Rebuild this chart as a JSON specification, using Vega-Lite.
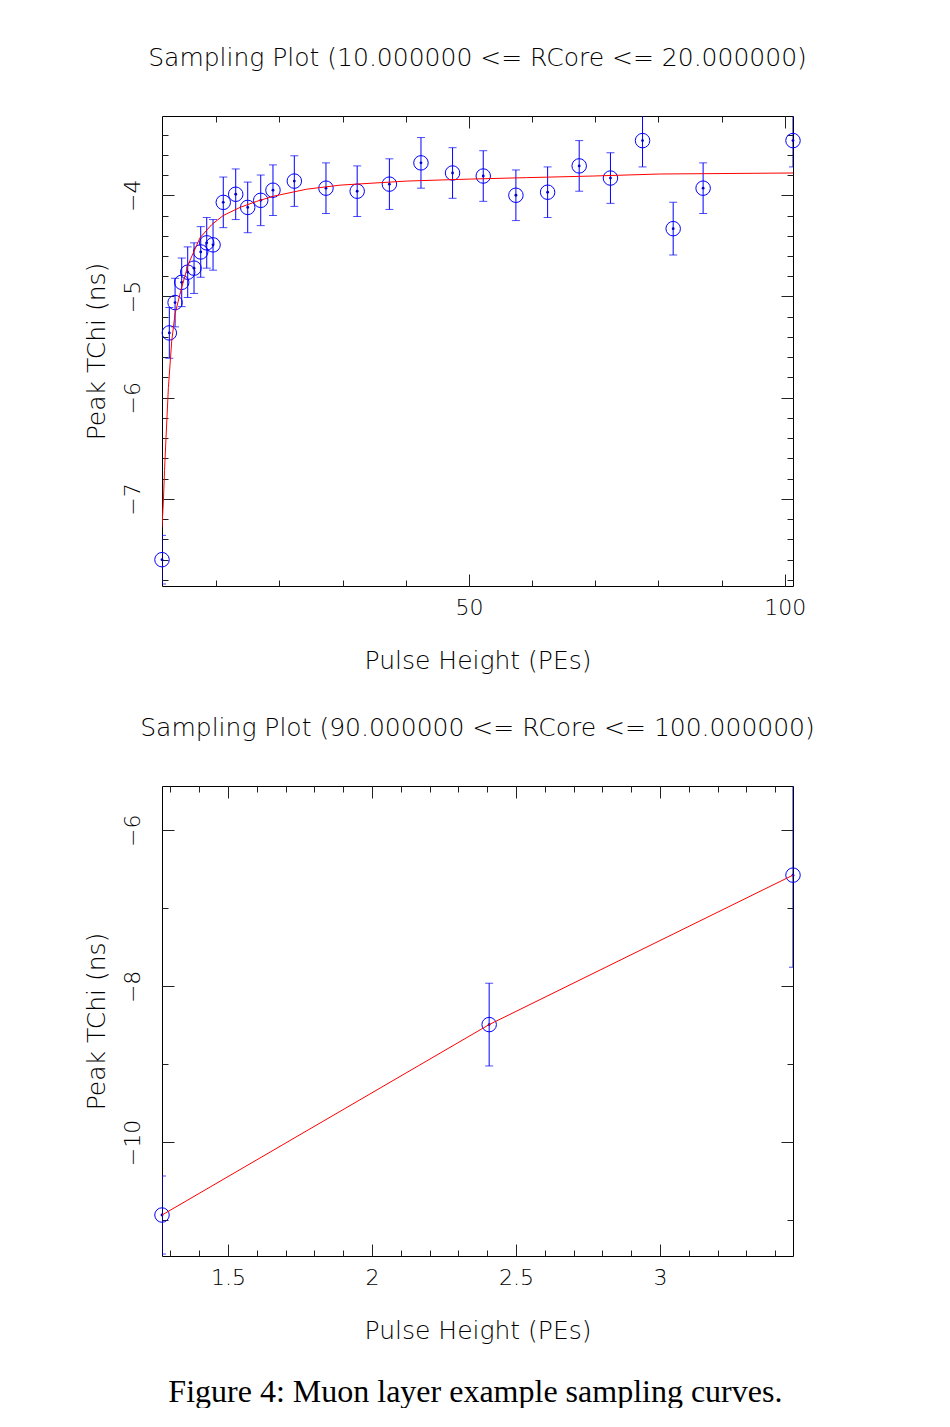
{
  "$schema": "https://vega.github.io/schema/vega-lite/v6.json",
  "background": "white",
  "padding": {"left": 83, "top": 45, "right": 0, "bottom": 0},
  "spacing": 41,
  "config": {
    "view": {"stroke": "black", "strokeWidth": 1},
    "font": "DejaVu Sans",
    "axis": {"grid": false, "domain": false, "tickColor": "#222", "tickWidth": 1, "labelColor": "#000", "titleColor": "#000", "labelFont": "DejaVu Sans", "titleFont": "DejaVu Sans", "labelFontSize": 22, "titleFontSize": 25, "labelFontWeight": 200, "titleFontWeight": 200, "labelFlush": false, "labelOverlap": false},
    "title": {"font": "DejaVu Sans", "fontSize": 25, "fontWeight": 200, "color": "#000"}
  },
  "title": {"text": "Figure 4: Muon layer example sampling curves.", "orient": "bottom", "anchor": "middle", "font": "Liberation Serif", "fontSize": 32, "fontWeight": "normal", "color": "black", "offset": 33, "dx": 26},
  "datasets": {
    "top": [
      {"x": 1.4, "y": -7.60, "lo": -7.84, "hi": -7.36},
      {"x": 2.56, "y": -5.36, "lo": -5.61, "hi": -5.11},
      {"x": 3.47, "y": -5.06, "lo": -5.30, "hi": -4.82},
      {"x": 4.52, "y": -4.86, "lo": -5.10, "hi": -4.62},
      {"x": 5.47, "y": -4.76, "lo": -5.01, "hi": -4.51},
      {"x": 6.47, "y": -4.72, "lo": -4.97, "hi": -4.47},
      {"x": 7.53, "y": -4.56, "lo": -4.81, "hi": -4.31},
      {"x": 8.48, "y": -4.47, "lo": -4.72, "hi": -4.22},
      {"x": 9.48, "y": -4.49, "lo": -4.74, "hi": -4.24},
      {"x": 11.1, "y": -4.07, "lo": -4.32, "hi": -3.82},
      {"x": 13.07, "y": -3.99, "lo": -4.24, "hi": -3.74},
      {"x": 14.97, "y": -4.12, "lo": -4.37, "hi": -3.87},
      {"x": 17.03, "y": -4.05, "lo": -4.30, "hi": -3.80},
      {"x": 18.97, "y": -3.95, "lo": -4.20, "hi": -3.70},
      {"x": 22.35, "y": -3.86, "lo": -4.11, "hi": -3.61},
      {"x": 27.36, "y": -3.93, "lo": -4.18, "hi": -3.68},
      {"x": 32.3, "y": -3.96, "lo": -4.21, "hi": -3.71},
      {"x": 37.4, "y": -3.89, "lo": -4.14, "hi": -3.64},
      {"x": 42.4, "y": -3.68, "lo": -3.93, "hi": -3.43},
      {"x": 47.4, "y": -3.78, "lo": -4.03, "hi": -3.53},
      {"x": 52.26, "y": -3.81, "lo": -4.06, "hi": -3.56},
      {"x": 57.43, "y": -4.00, "lo": -4.25, "hi": -3.75},
      {"x": 62.45, "y": -3.97, "lo": -4.22, "hi": -3.72},
      {"x": 67.45, "y": -3.71, "lo": -3.96, "hi": -3.46},
      {"x": 72.4, "y": -3.83, "lo": -4.08, "hi": -3.58},
      {"x": 77.48, "y": -3.46, "lo": -3.72, "hi": -3.20},
      {"x": 82.33, "y": -4.33, "lo": -4.59, "hi": -4.07},
      {"x": 87.07, "y": -3.93, "lo": -4.18, "hi": -3.68},
      {"x": 101.3, "y": -3.46, "lo": -3.72, "hi": -3.20}
    ],
    "topfit": [
      {"x": 1.4, "y": -7.28},
      {"x": 1.62, "y": -7.02},
      {"x": 1.8, "y": -6.72},
      {"x": 2.04, "y": -6.39},
      {"x": 2.41, "y": -5.9},
      {"x": 2.94, "y": -5.44},
      {"x": 3.47, "y": -5.17},
      {"x": 4.52, "y": -4.91},
      {"x": 5.57, "y": -4.68},
      {"x": 7.42, "y": -4.42},
      {"x": 9.27, "y": -4.29},
      {"x": 11.1, "y": -4.2},
      {"x": 13.75, "y": -4.12},
      {"x": 16.4, "y": -4.06},
      {"x": 19.0, "y": -4.01},
      {"x": 24.3, "y": -3.94},
      {"x": 29.6, "y": -3.9},
      {"x": 34.8, "y": -3.88},
      {"x": 40.1, "y": -3.86},
      {"x": 50.2, "y": -3.84},
      {"x": 59.1, "y": -3.826},
      {"x": 69.7, "y": -3.81},
      {"x": 80.2, "y": -3.79},
      {"x": 101.3, "y": -3.78}
    ],
    "bot": [
      {"x": 1.271, "y": -10.93, "lo": -11.43, "hi": -10.43},
      {"x": 2.407, "y": -8.49, "lo": -9.02, "hi": -7.96},
      {"x": 3.462, "y": -6.575, "lo": -7.755, "hi": -5.395}
    ]
  },
  "vconcat": [
    {
      "title": {"text": "Sampling Plot (10.000000 <= RCore <= 20.000000)", "anchor": "middle", "frame": "group", "baseline": "bottom", "offset": 20},
      "width": 631,
      "height": 470,
      "resolve": {"axis": {"x": "independent", "y": "independent"}},
      "layer": [
        {
          "data": {"name": "top"},
          "mark": {"type": "rule", "color": "#0000ff", "strokeWidth": 1, "clip": true},
          "encoding": {
            "x": {"field": "x", "type": "quantitative", "scale": {"domain": [1.4, 101.3], "nice": false, "zero": false},
              "axis": {"orient": "bottom", "values": [50, 100], "tickSize": -12, "labelPadding": 23, "title": "Pulse Height (PEs)", "titlePadding": 30}},
            "y": {"field": "lo", "type": "quantitative", "scale": {"domain": [-7.86, -3.217], "nice": false, "zero": false},
              "axis": {"orient": "left", "values": [-7, -6, -5, -4], "format": "d", "tickSize": -12, "labelAngle": -90, "labelAlign": "center", "labelBaseline": "middle", "labelPadding": 42, "title": "Peak TChi (ns)", "titlePadding": 12}},
            "y2": {"field": "hi"}
          }
        },
        {
          "data": {"name": "top"},
          "mark": {"type": "tick", "orient": "horizontal", "color": "#0000ff", "size": 8, "thickness": 1, "clip": true},
          "encoding": {
            "x": {"field": "x", "type": "quantitative",
              "axis": {"orient": "bottom", "values": [10, 20, 30, 40, 50, 60, 70, 80, 90, 100], "tickSize": -6, "labels": false, "title": null}},
            "y": {"field": "lo", "type": "quantitative",
              "axis": {"orient": "left", "values": [-7.8, -7.6, -7.4, -7.2, -7, -6.8, -6.6, -6.4, -6.2, -6, -5.8, -5.6, -5.4, -5.2, -5, -4.8, -4.6, -4.4, -4.2, -4, -3.8, -3.6, -3.4], "tickSize": -6, "labels": false, "title": null}}
          }
        },
        {
          "data": {"name": "top"},
          "mark": {"type": "tick", "orient": "horizontal", "color": "#0000ff", "size": 8, "thickness": 1, "clip": true},
          "encoding": {
            "x": {"field": "x", "type": "quantitative",
              "axis": {"orient": "top", "values": [50, 100], "tickSize": -12, "labels": false, "title": null}},
            "y": {"field": "hi", "type": "quantitative",
              "axis": {"orient": "right", "values": [-7, -6, -5, -4], "tickSize": -12, "labels": false, "title": null}}
          }
        },
        {
          "data": {"name": "top"},
          "mark": {"type": "point", "shape": "circle", "filled": false, "color": "#0000ff", "size": 210, "strokeWidth": 1, "opacity": 1},
          "encoding": {
            "x": {"field": "x", "type": "quantitative",
              "axis": {"orient": "top", "values": [10, 20, 30, 40, 50, 60, 70, 80, 90, 100], "tickSize": -6, "labels": false, "title": null}},
            "y": {"field": "y", "type": "quantitative",
              "axis": {"orient": "right", "values": [-7.8, -7.6, -7.4, -7.2, -7, -6.8, -6.6, -6.4, -6.2, -6, -5.8, -5.6, -5.4, -5.2, -5, -4.8, -4.6, -4.4, -4.2, -4, -3.8, -3.6, -3.4], "tickSize": -6, "labels": false, "title": null}}
          }
        },
        {
          "data": {"name": "top"},
          "mark": {"type": "point", "shape": "circle", "filled": true, "color": "#0000cc", "size": 8, "opacity": 1},
          "encoding": {
            "x": {"field": "x", "type": "quantitative", "axis": null},
            "y": {"field": "y", "type": "quantitative", "axis": null}
          }
        },
        {
          "data": {"name": "topfit"},
          "mark": {"type": "line", "color": "#ff0000", "strokeWidth": 1, "clip": true},
          "encoding": {
            "x": {"field": "x", "type": "quantitative", "axis": null},
            "y": {"field": "y", "type": "quantitative", "axis": null}
          }
        }
      ]
    },
    {
      "title": {"text": "Sampling Plot (90.000000 <= RCore <= 100.000000)", "anchor": "middle", "frame": "group", "baseline": "bottom", "offset": 20},
      "width": 631,
      "height": 470,
      "resolve": {"axis": {"x": "independent", "y": "independent"}},
      "layer": [
        {
          "data": {"name": "bot"},
          "mark": {"type": "rule", "color": "#0000ff", "strokeWidth": 1, "clip": true},
          "encoding": {
            "x": {"field": "x", "type": "quantitative", "scale": {"domain": [1.271, 3.462], "nice": false, "zero": false},
              "axis": {"orient": "bottom", "values": [1.5, 2, 2.5, 3], "format": "~g", "tickSize": -12, "labelPadding": 23, "title": "Pulse Height (PEs)", "titlePadding": 30}},
            "y": {"field": "lo", "type": "quantitative", "scale": {"domain": [-11.455, -5.433], "nice": false, "zero": false},
              "axis": {"orient": "left", "values": [-10, -8, -6], "format": "d", "tickSize": -12, "labelAngle": -90, "labelAlign": "center", "labelBaseline": "middle", "labelPadding": 42, "title": "Peak TChi (ns)", "titlePadding": 12}},
            "y2": {"field": "hi"}
          }
        },
        {
          "data": {"name": "bot"},
          "mark": {"type": "tick", "orient": "horizontal", "color": "#0000ff", "size": 8, "thickness": 1, "clip": true},
          "encoding": {
            "x": {"field": "x", "type": "quantitative",
              "axis": {"orient": "bottom", "values": [1.3, 1.4, 1.5, 1.6, 1.7, 1.8, 1.9, 2, 2.1, 2.2, 2.3, 2.4, 2.5, 2.6, 2.7, 2.8, 2.9, 3, 3.1, 3.2, 3.3, 3.4], "tickSize": -6, "labels": false, "title": null}},
            "y": {"field": "lo", "type": "quantitative",
              "axis": {"orient": "left", "values": [-11, -9, -7], "tickSize": -6, "labels": false, "title": null}}
          }
        },
        {
          "data": {"name": "bot"},
          "mark": {"type": "tick", "orient": "horizontal", "color": "#0000ff", "size": 8, "thickness": 1, "clip": true},
          "encoding": {
            "x": {"field": "x", "type": "quantitative",
              "axis": {"orient": "top", "values": [1.5, 2, 2.5, 3], "tickSize": -12, "labels": false, "title": null}},
            "y": {"field": "hi", "type": "quantitative",
              "axis": {"orient": "right", "values": [-10, -8, -6], "tickSize": -12, "labels": false, "title": null}}
          }
        },
        {
          "data": {"name": "bot"},
          "mark": {"type": "point", "shape": "circle", "filled": false, "color": "#0000ff", "size": 210, "strokeWidth": 1, "opacity": 1},
          "encoding": {
            "x": {"field": "x", "type": "quantitative",
              "axis": {"orient": "top", "values": [1.3, 1.4, 1.5, 1.6, 1.7, 1.8, 1.9, 2, 2.1, 2.2, 2.3, 2.4, 2.5, 2.6, 2.7, 2.8, 2.9, 3, 3.1, 3.2, 3.3, 3.4], "tickSize": -6, "labels": false, "title": null}},
            "y": {"field": "y", "type": "quantitative",
              "axis": {"orient": "right", "values": [-11, -9, -7], "tickSize": -6, "labels": false, "title": null}}
          }
        },
        {
          "data": {"name": "bot"},
          "mark": {"type": "point", "shape": "circle", "filled": true, "color": "#0000cc", "size": 8, "opacity": 1},
          "encoding": {
            "x": {"field": "x", "type": "quantitative", "axis": null},
            "y": {"field": "y", "type": "quantitative", "axis": null}
          }
        },
        {
          "data": {"name": "bot"},
          "mark": {"type": "line", "color": "#ff0000", "strokeWidth": 1, "clip": true},
          "encoding": {
            "x": {"field": "x", "type": "quantitative", "axis": null},
            "y": {"field": "y", "type": "quantitative", "axis": null}
          }
        }
      ]
    }
  ]
}
